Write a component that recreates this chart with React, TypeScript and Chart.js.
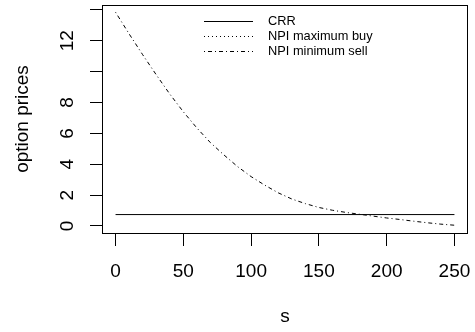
import React, { useEffect, useRef } from "react";
import { Chart, registerables } from "chart.js";

Chart.register(...registerables);

// ---- data ----
const sValues = [0, 10, 20, 30, 40, 50, 60, 70, 80, 90, 100, 110, 120, 130, 140, 150, 160, 170, 180, 190, 200, 210, 220, 230, 240, 250];
const minSellValues = [13.85, 12.45, 11.1, 9.8, 8.55, 7.4, 6.35, 5.4, 4.6, 3.85, 3.2, 2.65, 2.15, 1.75, 1.45, 1.2, 1.02, 0.88, 0.76, 0.64, 0.52, 0.42, 0.31, 0.21, 0.12, 0.05];
const crrS = [0, 250];
const crrValues = [0.74, 0.74];
// NPI maximum buy: no visible marks in the reference (legend entry only)
const maxBuyS: number[] = [];
const maxBuyValues: number[] = [];

const seriesLabels = ["CRR", "NPI maximum buy", "NPI minimum sell"];
const xTickValues = [0, 50, 100, 150, 200, 250];
const xTickLabels = ["0", "50", "100", "150", "200", "250"];
const yTickValues = [0, 2, 4, 6, 8, 10, 12, 14];
const yTickLabels = ["0", "2", "4", "6", "8", "", "12", ""];
const xTitle = "s";
const yTitle = "option prices";

const FONT = '"Liberation Sans", Arial, Helvetica, sans-serif';

const boxPlugin = {
  id: "rBox",
  afterDraw(chart: any) {
    const { ctx, chartArea } = chart;
    ctx.save();
    ctx.strokeStyle = "#000";
    ctx.lineWidth = 1;
    ctx.setLineDash([]);
    const l = Math.round(chartArea.left) + 0.5;
    const t = Math.round(chartArea.top) + 0.5;
    const r = Math.round(chartArea.right) - 0.5;
    const b = Math.round(chartArea.bottom) + 0.5;
    ctx.strokeRect(l, t, r - l, b - t);
    ctx.restore();
  },
};

const legendPlugin = {
  id: "rLegend",
  afterDatasetsDraw(chart: any) {
    const { ctx, chartArea } = chart;
    const cx = (chartArea.left + chartArea.right) / 2;
    ctx.save();
    ctx.font = `12.8px ${FONT}`;
    ctx.textBaseline = "middle";
    ctx.textAlign = "left";
    ctx.fillStyle = "#000";
    chart.data.datasets.forEach((ds: any, i: number) => {
      const y = Math.round(chartArea.top + 15.7 + i * 15.2) + 0.5;
      ctx.beginPath();
      ctx.setLineDash(ds.borderDash || []);
      ctx.lineWidth = 1;
      ctx.strokeStyle = "#000";
      ctx.moveTo(cx - 81, y);
      ctx.lineTo(cx - 32, y);
      ctx.stroke();
      ctx.setLineDash([]);
      ctx.fillText(ds.label, cx - 17, y);
    });
    ctx.restore();
  },
};

export default function App() {
  const ref = useRef<HTMLCanvasElement | null>(null);

  useEffect(() => {
    document.body.style.margin = "0";
    const canvas = ref.current;
    if (!canvas) return;

    const toXY = (xs: number[], ys: number[]) => xs.map((x, i) => ({ x, y: ys[i] }));

    const chart = new Chart(canvas, {
      type: "line",
      data: {
        datasets: [
          {
            label: seriesLabels[0],
            data: toXY(crrS, crrValues),
            borderColor: "#000",
            borderWidth: 1,
            borderDash: [],
            pointRadius: 0,
            tension: 0,
            fill: false,
          },
          {
            label: seriesLabels[1],
            data: toXY(maxBuyS, maxBuyValues),
            borderColor: "#000",
            borderWidth: 1,
            borderDash: [1, 3],
            pointRadius: 0,
            tension: 0,
            fill: false,
          },
          {
            label: seriesLabels[2],
            data: toXY(sValues, minSellValues),
            borderColor: "#000",
            borderWidth: 1,
            borderDash: [1, 3, 4, 3],
            pointRadius: 0,
            tension: 0,
            fill: false,
          },
        ],
      },
      options: {
        animation: false,
        responsive: false,
        devicePixelRatio: 1,
        layout: { padding: { top: 5, right: 7, left: 0, bottom: 0 } },
        plugins: {
          legend: { display: false },
          tooltip: { enabled: false },
        },
        scales: {
          x: {
            type: "linear",
            min: -10,
            max: 260,
            afterBuildTicks: (scale: any) => {
              scale.ticks = xTickValues.map((v) => ({ value: v }));
            },
            afterFit: (scale: any) => {
              scale.height = 99;
              scale.paddingLeft = 0;
              scale.paddingRight = 0;
              scale.paddingTop = 0;
              scale.paddingBottom = 0;
            },
            grid: {
              drawOnChartArea: false,
              drawTicks: true,
              tickLength: 13,
              color: "#000",
              lineWidth: 1,
            },
            border: { display: false },
            ticks: {
              autoSkip: false,
              maxRotation: 0,
              minRotation: 0,
              padding: 14,
              color: "#000",
              font: { family: FONT, size: 19 },
              callback: (_v: any, i: number) => xTickLabels[i],
            },
            title: {
              display: true,
              text: xTitle,
              color: "#000",
              font: { family: FONT, size: 19 },
              padding: { top: 0, bottom: 4 },
            },
          },
          y: {
            type: "linear",
            min: -0.454,
            max: 14.32,
            afterBuildTicks: (scale: any) => {
              scale.ticks = yTickValues.map((v) => ({ value: v }));
            },
            afterFit: (scale: any) => {
              scale.width = 102;
              scale.paddingLeft = 0;
              scale.paddingRight = 0;
              scale.paddingTop = 0;
              scale.paddingBottom = 0;
            },
            grid: {
              drawOnChartArea: false,
              drawTicks: true,
              tickLength: 12,
              color: "#000",
              lineWidth: 1,
            },
            border: { display: false },
            ticks: {
              autoSkip: false,
              minRotation: 90,
              maxRotation: 90,
              crossAlign: "center",
              padding: 12,
              color: "#000",
              font: { family: FONT, size: 19 },
              callback: (_v: any, i: number) => yTickLabels[i],
            },
            title: {
              display: true,
              text: yTitle,
              color: "#000",
              font: { family: FONT, size: 19 },
              padding: { top: 11, bottom: 0 },
            },
          },
        },
      } as any,
      plugins: [boxPlugin, legendPlugin],
    });

    return () => chart.destroy();
  }, []);

  return (
    <div style={{ width: 475, height: 332, position: "relative", background: "#fff" }}>
      <canvas ref={ref} width={475} height={332} />
    </div>
  );
}
